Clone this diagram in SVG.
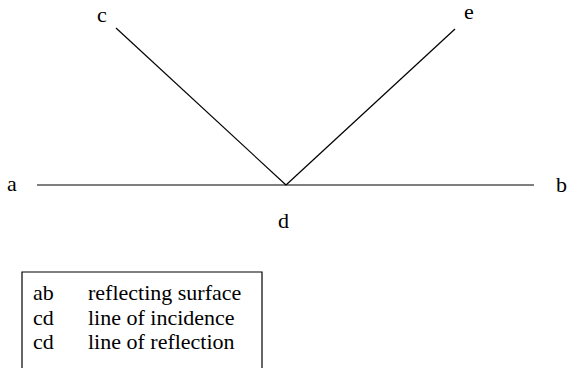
<svg xmlns="http://www.w3.org/2000/svg" width="567" height="368" viewBox="0 0 567 368">
<style>
.lbl{font-family:'Liberation Serif','DejaVu Serif',serif;font-size:22px;fill:#000}
.leg{font-family:'Liberation Serif','DejaVu Serif',serif;font-size:22px;fill:#000}
.ln{stroke:#000;stroke-width:1.2;fill:none}
</style>
<rect width="567" height="368" fill="#fff"/>
<g id="connectors">
<line class="ln" x1="37" y1="185" x2="534" y2="185"/>
<line class="ln" x1="116" y1="28" x2="286" y2="185"/>
<line class="ln" x1="455" y1="29" x2="286" y2="185"/>
</g>
<g id="node-a"><text class="lbl" x="7" y="191">a</text></g>
<g id="node-b"><text class="lbl" x="556" y="192">b</text></g>
<g id="node-c"><text class="lbl" x="97" y="22">c</text></g>
<g id="node-e"><text class="lbl" x="464" y="19">e</text></g>
<g id="node-d"><text class="lbl" x="278" y="228">d</text></g>
<g id="legend">
<path class="ln" d="M22,368 V272 H262 V368"/>
<text class="leg" x="33" y="300">ab</text>
<text class="leg" x="88" y="300">reflecting surface</text>
<text class="leg" x="33" y="325">cd</text>
<text class="leg" x="88" y="325">line of incidence</text>
<text class="leg" x="33" y="349">cd</text>
<text class="leg" x="88" y="349">line of reflection</text>
</g>
</svg>
